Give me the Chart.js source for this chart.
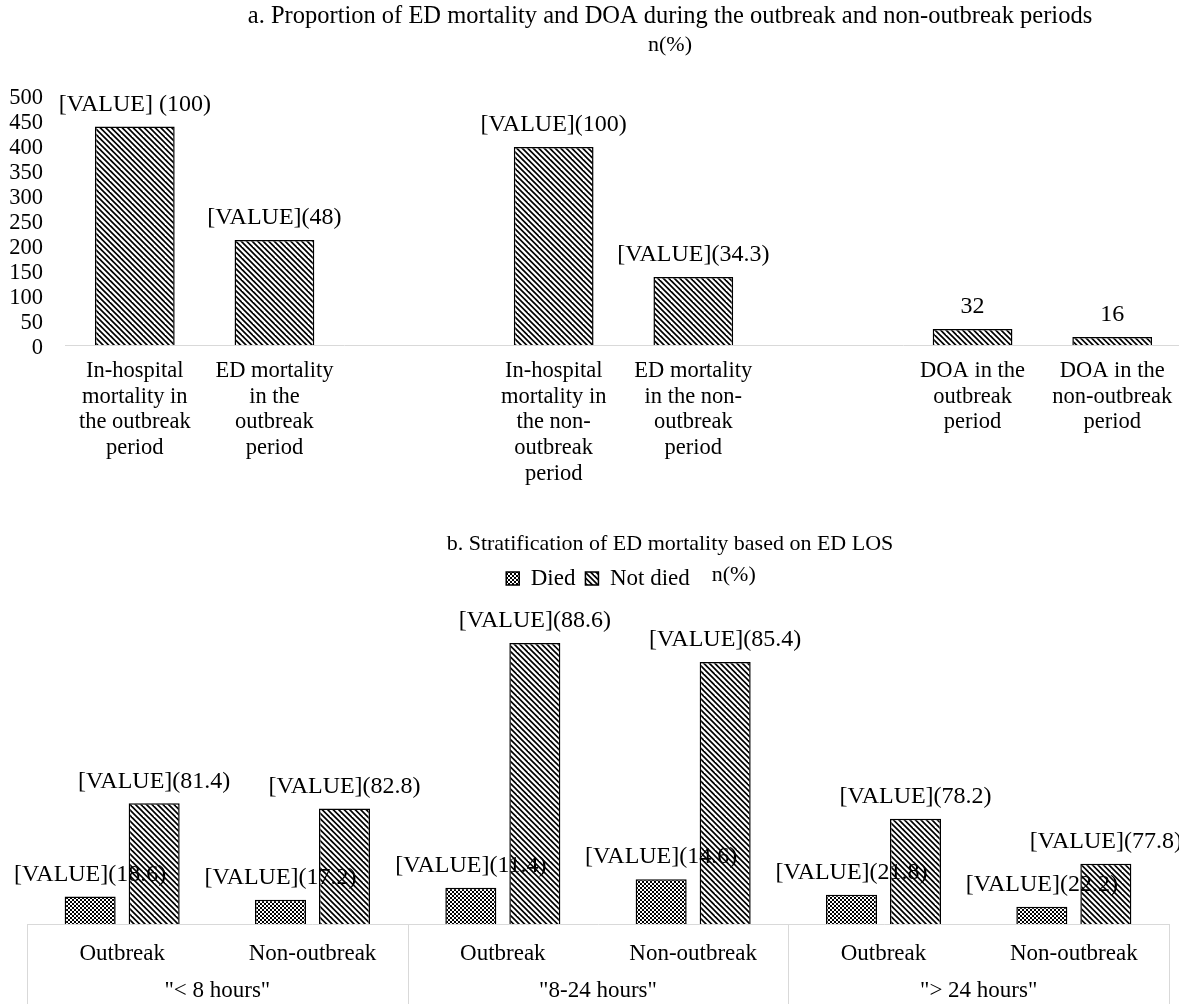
<!DOCTYPE html>
<html>
<head>
<meta charset="utf-8">
<script src="https://cdn.jsdelivr.net/npm/chart.js@4.4.1/dist/chart.umd.min.js"></script>
<style>
  html, body { margin: 0; padding: 0; background: #fff; }
  #wrap { position: relative; width: 1179px; height: 1004px; overflow: hidden; background: #fff; }
  canvas { position: absolute; left: 0; }
  #chartA { top: 0; }
  #chartB { top: 515px; }
</style>
</head>
<body>
<div id="wrap">
  <canvas id="chartA" width="1183" height="490"></canvas>
  <canvas id="chartB" width="1179" height="489"></canvas>
</div>
<script>
const SERIF = "'Liberation Serif', 'Times New Roman', serif";
const INK = '#000';
const RULE = '#d9d9d9';

// ---- Panel a: deaths by period ----
const titleA = 'a. Proportion of ED mortality and DOA during the outbreak and non-outbreak periods';
const unitA = 'n(%)';
const periodCategories = [
  ['In-hospital', 'mortality in', 'the outbreak', 'period'],
  ['ED mortality', 'in the', 'outbreak', 'period'],
  '',
  ['In-hospital', 'mortality in', 'the non-', 'outbreak', 'period'],
  ['ED mortality', 'in the non-', 'outbreak', 'period'],
  '',
  ['DOA in the', 'outbreak', 'period'],
  ['DOA in the', 'non-outbreak', 'period']
];
const periodCounts = [437, 210, null, 396, 136, null, 32, 16];
const periodTags = ['[VALUE] (100)', '[VALUE](48)', null, '[VALUE](100)', '[VALUE](34.3)', null, null, null];
const yTicksA = [0, 50, 100, 150, 200, 250, 300, 350, 400, 450, 500];

// ---- Panel b: ED mortality by length of stay ----
const titleB = 'b. Stratification of ED mortality based on ED LOS';
const unitB = 'n(%)';
const losGroups = ['"< 8 hours"', '"8-24 hours"', '"> 24 hours"'];
const periodNames = ['Outbreak', 'Non-outbreak', 'Outbreak', 'Non-outbreak', 'Outbreak', 'Non-outbreak'];
const diedCounts = [16, 14, 21, 26, 17, 10];
const notDiedCounts = [70, 67, 163, 152, 61, 35];
const diedPct = [18.6, 17.2, 11.4, 14.6, 21.8, 22.2];
const notDiedPct = [81.4, 82.8, 88.6, 85.4, 78.2, 77.8];

// ---- fill patterns ----
function diagonalHatch(ctx) {
  const size = 11, step = 5.5;
  const tile = document.createElement('canvas');
  tile.width = tile.height = size;
  const g = tile.getContext('2d');
  g.fillStyle = '#fff';
  g.fillRect(0, 0, size, size);
  g.strokeStyle = '#000';
  g.lineWidth = 1.7;
  for (let k = -3; k <= 3; k++) {
    const c = k * step;
    g.beginPath();
    g.moveTo(c - 2, -2);
    g.lineTo(c + size + 2, size + 2);
    g.stroke();
  }
  return ctx.createPattern(tile, 'repeat');
}
function checker(ctx) {
  const tile = document.createElement('canvas');
  tile.width = tile.height = 4;
  const g = tile.getContext('2d');
  g.fillStyle = '#fff';
  g.fillRect(0, 0, 4, 4);
  g.fillStyle = '#000';
  g.fillRect(0, 0, 2, 2);
  g.fillRect(2, 2, 2, 2);
  return ctx.createPattern(tile, 'repeat');
}

// ---- plugins ----
function headingPlugin(lines) {
  return {
    id: 'heading',
    afterDraw(chart) {
      const ctx = chart.ctx;
      ctx.save();
      ctx.fillStyle = INK;
      ctx.textAlign = 'center';
      ctx.textBaseline = 'middle';
      lines.forEach(l => {
        ctx.font = l.size + 'px ' + SERIF;
        ctx.fillText(l.text, l.x, l.y);
      });
      ctx.restore();
    }
  };
}

function barLabelPlugin(textFor) {
  return {
    id: 'barLabels',
    afterDatasetsDraw(chart) {
      const ctx = chart.ctx;
      ctx.save();
      ctx.fillStyle = INK;
      ctx.font = '24px ' + SERIF;
      ctx.textAlign = 'center';
      ctx.textBaseline = 'middle';
      chart.data.datasets.forEach((ds, di) => {
        const meta = chart.getDatasetMeta(di);
        meta.data.forEach((bar, i) => {
          const v = ds.data[i];
          if (v === null || v === undefined) return;
          ctx.fillText(textFor(di, i, v), bar.x, bar.y - 22);
        });
      });
      ctx.restore();
    }
  };
}

const groupBoxPlugin = {
  id: 'groupBox',
  afterDraw(chart) {
    const xs = chart.scales.x;
    const half = (xs.getPixelForValue(1) - xs.getPixelForValue(0)) / 2;
    const bounds = [];
    for (let g = 0; g < losGroups.length; g++) bounds.push(xs.getPixelForValue(g * 2) - half);
    bounds.push(xs.getPixelForValue(periodNames.length - 1) + half);
    const ctx = chart.ctx;
    ctx.save();
    ctx.strokeStyle = RULE;
    ctx.lineWidth = 1;
    bounds.forEach(x => {
      const px = Math.round(x) + 0.5;
      ctx.beginPath();
      ctx.moveTo(px, chart.chartArea.bottom);
      ctx.lineTo(px, chart.height);
      ctx.stroke();
    });
    ctx.restore();
  }
};

const legendUnitPlugin = {
  id: 'legendUnit',
  afterDraw(chart) {
    const boxes = chart.legend && chart.legend.legendHitBoxes;
    if (!boxes || !boxes.length) return;
    const last = boxes[boxes.length - 1];
    const ctx = chart.ctx;
    ctx.save();
    ctx.fillStyle = INK;
    ctx.font = '22px ' + SERIF;
    ctx.textAlign = 'left';
    ctx.textBaseline = 'middle';
    ctx.fillText(unitB, last.left + last.width + 22, last.top + last.height / 2 - 3);
    ctx.restore();
  }
};

// ---- chart a ----
const ctxA = document.getElementById('chartA').getContext('2d');
new Chart(ctxA, {
  type: 'bar',
  data: {
    labels: periodCategories,
    datasets: [{
      data: periodCounts,
      backgroundColor: diagonalHatch(ctxA),
      borderColor: INK,
      borderWidth: 1.5,
      categoryPercentage: 1,
      barPercentage: 0.571
    }]
  },
  options: {
    responsive: false,
    animation: false,
    devicePixelRatio: 1,
    layout: { padding: { top: 95, left: 0, right: 1, bottom: 0 } },
    plugins: { legend: { display: false }, tooltip: { enabled: false } },
    scales: {
      x: {
        grid: { display: false },
        border: { display: true, color: RULE, width: 1 },
        ticks: {
          autoSkip: false, maxRotation: 0, minRotation: 0, padding: 5, color: INK,
          font: { family: SERIF, size: 22.5, lineHeight: 1.145 }
        },
        afterFit(s) { s.height = 145; }
      },
      y: {
        min: 0, max: 500,
        grid: { display: false },
        border: { display: false },
        ticks: { autoSkip: false, padding: 14, labelOffset: 3, color: INK, font: { family: SERIF, size: 22.5 } },
        afterBuildTicks(s) { s.ticks = yTicksA.map(v => ({ value: v })); },
        afterFit(s) { s.width = 65; }
      }
    }
  },
  plugins: [
    barLabelPlugin((di, i, v) => periodTags[i] !== null ? periodTags[i] : String(v)),
    headingPlugin([
      { text: titleA, x: 670, y: 17, size: 24.5 },
      { text: unitA, x: 670, y: 45, size: 22 }
    ])
  ]
});

// ---- chart b ----
const ctxB = document.getElementById('chartB').getContext('2d');
const pctB = [diedPct, notDiedPct];
new Chart(ctxB, {
  type: 'bar',
  data: {
    labels: periodNames,
    datasets: [
      {
        label: 'Died',
        data: diedCounts,
        backgroundColor: checker(ctxB),
        borderColor: INK,
        borderWidth: 1.5,
        categoryPercentage: 0.6726,
        barPercentage: 0.797
      },
      {
        label: 'Not died',
        data: notDiedCounts,
        backgroundColor: diagonalHatch(ctxB),
        borderColor: INK,
        borderWidth: 1.5,
        categoryPercentage: 0.6726,
        barPercentage: 0.797
      }
    ]
  },
  options: {
    responsive: false,
    animation: false,
    devicePixelRatio: 1,
    layout: { padding: { top: 42, left: 27, right: 10, bottom: 0 } },
    plugins: {
      tooltip: { enabled: false },
      legend: {
        display: true,
        position: 'top',
        fullSize: false,
        labels: {
          boxWidth: 13, boxHeight: 13, padding: 10, color: INK,
          font: { family: SERIF, size: 23 }
        }
      }
    },
    scales: {
      x: {
        weight: 0,
        grid: { display: false },
        border: { display: true, color: RULE, width: 1 },
        ticks: { autoSkip: false, maxRotation: 0, minRotation: 0, padding: 8, color: INK, font: { family: SERIF, size: 23 } },
        afterFit(s) { s.height = 45; }
      },
      x2: {
        type: 'category',
        labels: losGroups,
        position: 'bottom',
        weight: 1,
        offset: true,
        grid: { display: false },
        border: { display: false },
        ticks: { autoSkip: false, maxRotation: 0, minRotation: 0, padding: 0, color: INK, font: { family: SERIF, size: 23 } },
        afterFit(s) { s.height = 35; }
      },
      y: { display: false, min: 0, max: 188 }
    }
  },
  plugins: [
    barLabelPlugin((di, i) => '[VALUE](' + pctB[di][i] + ')'),
    groupBoxPlugin,
    legendUnitPlugin,
    headingPlugin([{ text: titleB, x: 670, y: 29, size: 22 }])
  ]
});
</script>
</body>
</html>
